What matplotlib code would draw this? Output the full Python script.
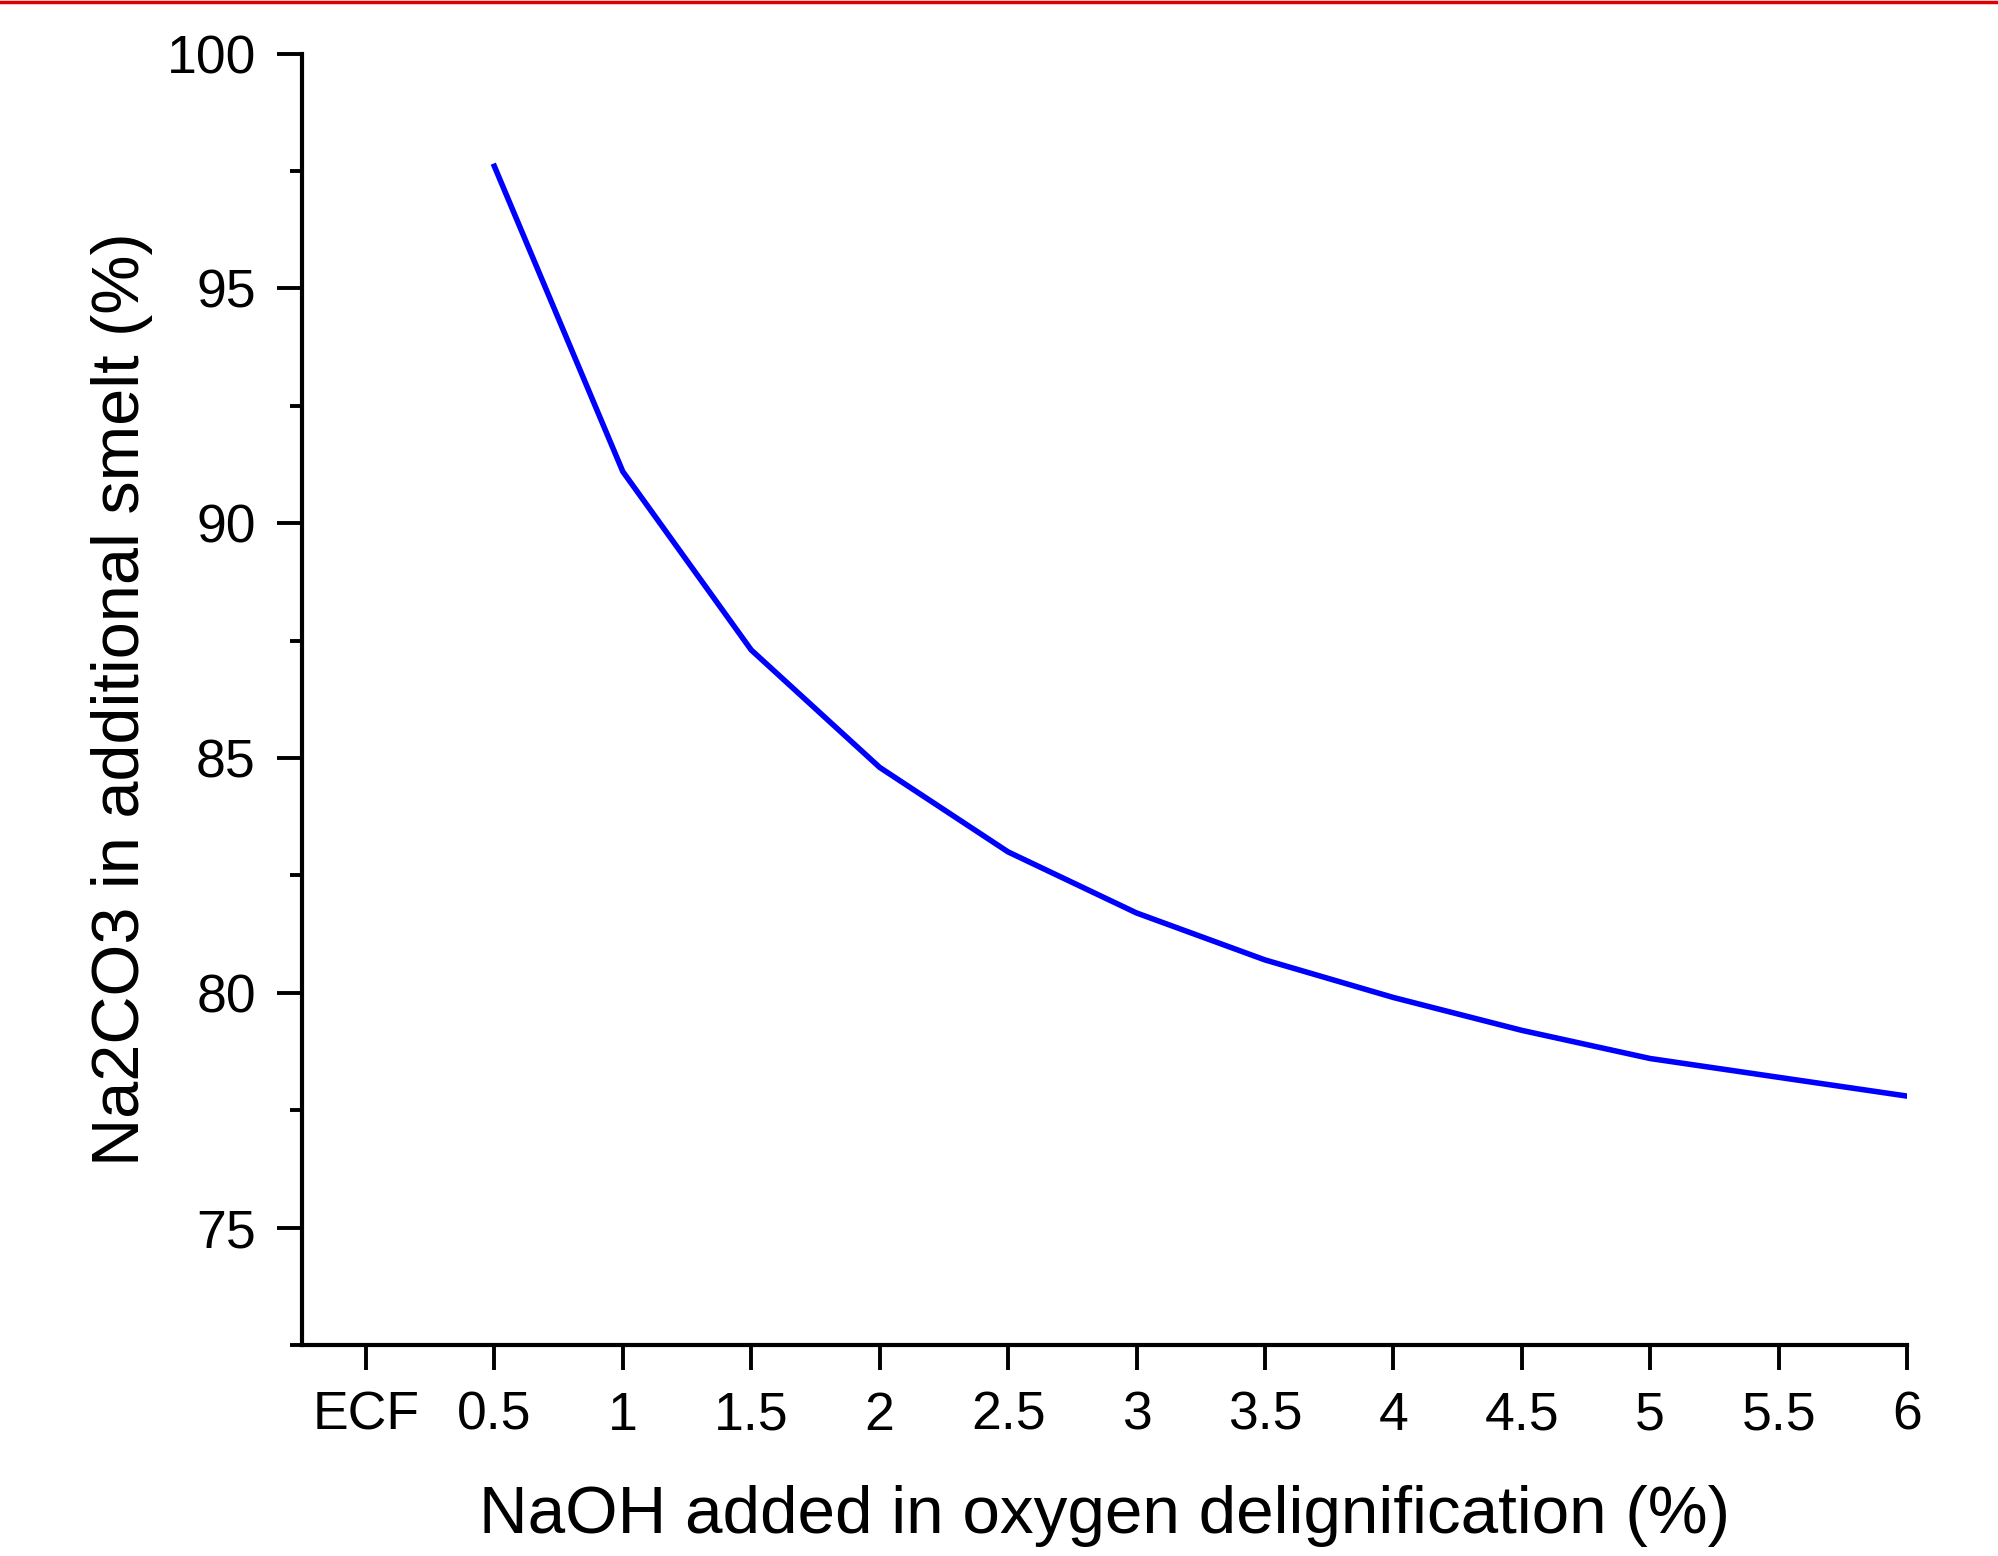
import numpy as np
import matplotlib
matplotlib.use("Agg")
import matplotlib.pyplot as plt
from matplotlib.lines import Line2D
from matplotlib.ticker import MultipleLocator

plt.rcParams['font.family'] = ['Liberation Sans', 'DejaVu Sans']

# data
naoh = [0.5, 1, 1.5, 2, 2.5, 3, 3.5, 4, 4.5, 5, 5.5, 6]
na2co3 = [97.6, 91.1, 87.3, 84.8, 83.0, 81.7, 80.7, 79.9, 79.2, 78.6, 78.2, 77.8]
xtick_pos = [0, 0.5, 1, 1.5, 2, 2.5, 3, 3.5, 4, 4.5, 5, 5.5, 6]
xtick_labels = ["ECF", "0.5", "1", "1.5", "2", "2.5", "3", "3.5", "4", "4.5", "5", "5.5", "6"]
ytick_pos = [75, 80, 85, 90, 95, 100]

fig = plt.figure(figsize=(19.98, 15.56), dpi=100)
ax = fig.add_axes([0.151, 0.1356, 0.8035, 0.83])

ax.plot(naoh, na2co3, color="#0000ff", linewidth=4)

ax.set_xlim(-0.25, 6)
ax.set_ylim(72.5, 100)
ax.set_xticks(xtick_pos)
ax.set_xticklabels(xtick_labels)
ax.set_yticks(ytick_pos)
ax.yaxis.set_minor_locator(MultipleLocator(2.5))

for s in ["top", "right"]:
    ax.spines[s].set_visible(False)
for s in ["left", "bottom"]:
    ax.spines[s].set_linewidth(3)

ax.tick_params(axis="both", which="major", direction="out", length=18, width=2.8,
               labelsize=38.5, pad=15)
ax.tick_params(axis="y", which="minor", direction="out", length=9, width=2.8)

ax.set_xlabel("NaOH added in oxygen delignification (%)", fontsize=48.5, labelpad=32)
ax.set_ylabel("Na2CO3 in additional smelt (%)", fontsize=48, labelpad=10)

# thin red rule across the top edge
fig.add_artist(Line2D([0, 1], [0.999, 0.999], color="#e00000", linewidth=2.5,
                      transform=fig.transFigure))

fig.savefig("out.png", dpi=100)
